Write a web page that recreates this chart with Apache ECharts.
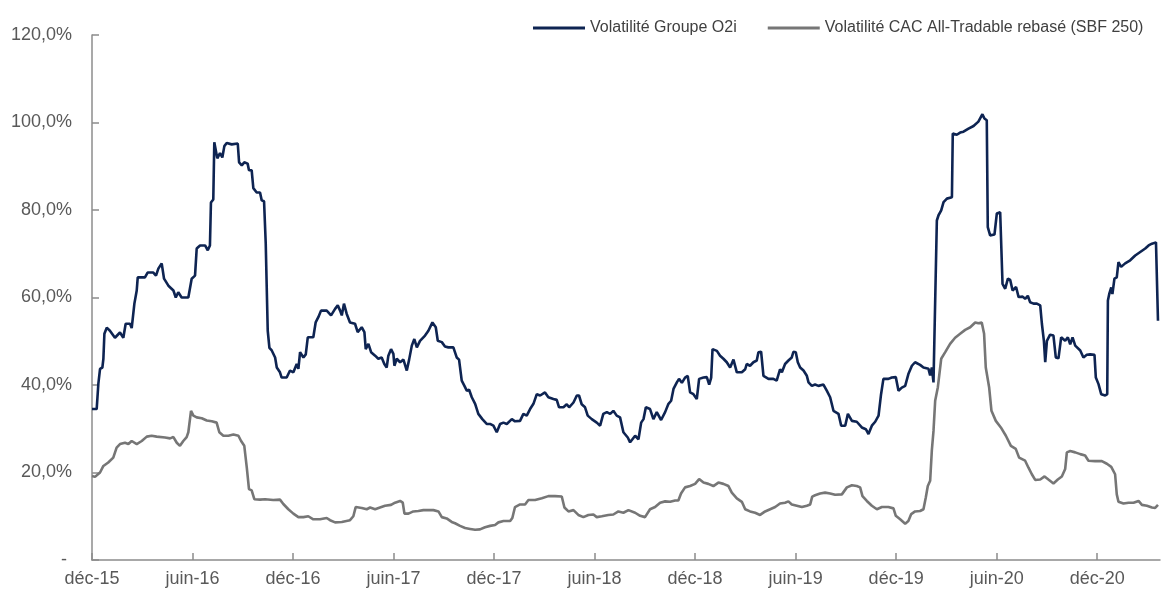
<!DOCTYPE html>
<html>
<head>
<meta charset="utf-8">
<script src="https://cdn.jsdelivr.net/npm/echarts@6/dist/echarts.min.js"></script>
<style>
  html, body { margin: 0; padding: 0; background: #fff; }
  #chart { width: 1162px; height: 603px; }
</style>
</head>
<body>
<div id="chart"></div>
<script>
// x = months since déc-15, y = volatility in %
const seriesNames = ['Volatilité Groupe O2i', 'Volatilité CAC All-Tradable rebasé (SBF 250)']

const xTickLabels = ['déc-15', 'juin-16', 'déc-16', 'juin-17', 'déc-17', 'juin-18',
  'déc-18', 'juin-19', 'déc-19', 'juin-20', 'déc-20']
const yTickValues = [0, 20, 40, 60, 80, 100, 120]

const o2iPoints = [
  [0, 34.5], [0.28, 34.5], [0.38, 40.3], [0.48, 43.7], [0.62, 44], [0.68, 46], [0.74, 51.7], [0.88, 53.1],
  [1.07, 52.4], [1.37, 50.8], [1.67, 52], [1.87, 50.8], [2.01, 54], [2.27, 54], [2.37, 53], [2.53, 58.6],
  [2.67, 61.6], [2.73, 64.6], [3.16, 64.6], [3.32, 65.7], [3.66, 65.7], [3.82, 65], [3.96, 66.6], [4.16, 67.8],
  [4.30, 64.3], [4.56, 62.7], [4.86, 61.6], [5.00, 60], [5.15, 61.2], [5.35, 60], [5.75, 60], [5.95, 64.3],
  [6.15, 65], [6.25, 71.2], [6.45, 71.9], [6.75, 71.9], [6.91, 70.8], [7.04, 71.9], [7.10, 81.7], [7.24, 82.4],
  [7.30, 95.5], [7.48, 91.8], [7.64, 93], [7.78, 92], [7.90, 94.6], [8.04, 95.3], [8.34, 95], [8.70, 95.2],
  [8.78, 90.9], [8.94, 90.2], [9.09, 90.9], [9.29, 90.6], [9.37, 89.1], [9.53, 89.1], [9.63, 85], [9.83, 84],
  [10.03, 84], [10.13, 82.2], [10.27, 82], [10.37, 72.4], [10.43, 62.3], [10.49, 52.4], [10.59, 48.5], [10.73, 47.9],
  [10.93, 46.3], [11.03, 44.0], [11.22, 42.9], [11.32, 41.7], [11.62, 41.7], [11.82, 43.3], [12.02, 42.9], [12.22, 44.8],
  [12.32, 43.7], [12.42, 47.5], [12.62, 46.3], [12.76, 47], [12.88, 50.9], [13.21, 50.9], [13.35, 54.3], [13.51, 55.5],
  [13.67, 57.0], [14.01, 57], [14.27, 55.9], [14.51, 57.4], [14.67, 58.2], [14.81, 57], [14.91, 55.9], [15.04, 58.6],
  [15.20, 56.3], [15.40, 54.3], [15.70, 54], [15.86, 52.1], [16.10, 53.2], [16.26, 52.1], [16.34, 48.2], [16.50, 49.4],
  [16.66, 47.5], [16.90, 46.7], [17.09, 46.0], [17.29, 46.3], [17.45, 44.8], [17.59, 44], [17.69, 46.7], [17.85, 48.2],
  [17.99, 47.1], [18.05, 44.4], [18.19, 46], [18.39, 45.2], [18.59, 45.8], [18.79, 43.3], [18.93, 45.8], [19.09, 49.0],
  [19.24, 50.5], [19.39, 48.6], [19.58, 50.1], [19.88, 51.3], [20.08, 52.4], [20.32, 54.3], [20.52, 53.2], [20.64, 50.1],
  [20.88, 49.8], [21.07, 48.8], [21.27, 48.6], [21.57, 48.6], [21.77, 46.3], [21.91, 45.8], [22.07, 41.0], [22.23, 39.8],
  [22.37, 38.7], [22.51, 38.9], [22.67, 37.2], [22.87, 35.7], [23.06, 33.4], [23.30, 32.2], [23.56, 31.1], [23.76, 31.1],
  [23.96, 30.7], [24.16, 29.2], [24.36, 31.1], [24.56, 31.4], [24.76, 31.1], [25.06, 32.2], [25.25, 31.7], [25.55, 31.8],
  [25.75, 33.4], [25.95, 33], [26.15, 34.5], [26.35, 35.7], [26.55, 37.9], [26.75, 37.6], [27.04, 38.3], [27.24, 37.2],
  [27.54, 36.8], [27.74, 36.6], [27.88, 34.9], [28.14, 34.9], [28.34, 35.6], [28.48, 34.9], [28.74, 36], [28.94, 37.6],
  [29.07, 37.6], [29.23, 35.6], [29.43, 34.9], [29.59, 33.0], [29.83, 32.2], [30.13, 31.4], [30.33, 30.7], [30.52, 33.4],
  [30.73, 33.8], [30.93, 33.4], [31.12, 34.1], [31.32, 33], [31.52, 32.6], [31.72, 29.2], [31.98, 28.0], [32.12, 26.9],
  [32.42, 28.4], [32.62, 27.6], [32.78, 31.4], [32.92, 32.2], [33.06, 34.9], [33.31, 34.5], [33.51, 32.2], [33.71, 33.8],
  [33.81, 34.1], [33.97, 32], [34.21, 33.8], [34.41, 35.7], [34.57, 36.4], [34.71, 39.1], [34.91, 40.6], [35.04, 41.4],
  [35.21, 40.5], [35.40, 41.7], [35.56, 42.1], [35.70, 38.3], [35.90, 37.9], [36.10, 36.8], [36.24, 41.4], [36.50, 41.7],
  [36.70, 41.8], [36.84, 40.1], [36.96, 41.7], [37.04, 48.2], [37.30, 47.8], [37.49, 46.7], [37.69, 46], [37.89, 45.2],
  [38.09, 44], [38.29, 45.8], [38.49, 42.9], [38.79, 42.9], [38.99, 43.6], [39.08, 44.8], [39.28, 44.4], [39.48, 45.2],
  [39.68, 45.6], [39.78, 47.5], [39.94, 47.6], [40.08, 42.1], [40.38, 41.4], [40.67, 41.4], [40.87, 41], [41.07, 43.6],
  [41.18, 42.9], [41.37, 44.8], [41.57, 45.6], [41.77, 46.3], [41.87, 47.6], [42.01, 47.5], [42.13, 45.2], [42.27, 44],
  [42.47, 43.3], [42.67, 42.1], [42.77, 40.6], [42.97, 39.8], [43.16, 40.1], [43.36, 39.8], [43.66, 40.1], [43.86, 38.7],
  [44.06, 37.2], [44.26, 34.1], [44.56, 33.4], [44.72, 30.7], [44.96, 30.7], [45.12, 33.4], [45.36, 31.8], [45.65, 31.6],
  [45.95, 30.3], [46.19, 29.9], [46.35, 28.8], [46.55, 30.7], [46.75, 31.6], [46.95, 33], [47.10, 37.9], [47.24, 41.4],
  [47.54, 41.4], [47.74, 41.7], [47.98, 41.8], [48.14, 38.7], [48.34, 39.4], [48.54, 39.8], [48.73, 42.5], [48.94, 44.4],
  [49.13, 45.2], [49.43, 44.6], [49.63, 44.0], [49.93, 43.7], [50.03, 42.2], [50.13, 44], [50.23, 40.6], [50.33, 40.2],
  [50.43, 77.6], [50.53, 78.8], [50.69, 79.9], [50.83, 81.8], [51.03, 82.6], [51.33, 82.9], [51.38, 97.5], [51.62, 97.2],
  [51.82, 97.7], [52.02, 97.9], [52.32, 98.6], [52.62, 99.2], [52.91, 100.2], [53.15, 101.9], [53.27, 100.9], [53.41, 100.5],
  [53.47, 76.1], [53.61, 74.2], [53.87, 74.4], [54.01, 79.2], [54.21, 79.5], [54.31, 79.2], [54.35, 63.1], [54.51, 62.0],
  [54.67, 64.3], [54.81, 64], [54.95, 61.6], [55.16, 62.4], [55.31, 60.1], [55.55, 60.2], [55.70, 59.7], [55.86, 60.4],
  [56.00, 58.9], [56.20, 58.6], [56.40, 58.6], [56.60, 58.2], [56.70, 54.0], [56.82, 50.1], [56.90, 45.2], [57.00, 50.1],
  [57.19, 51.5], [57.39, 51.3], [57.53, 46.3], [57.69, 46.1], [57.85, 50.9], [58.09, 50.1], [58.25, 50.9], [58.39, 49.3],
  [58.53, 50.9], [58.69, 49], [58.99, 47.9], [59.18, 46.3], [59.38, 46.9], [59.58, 47.0], [59.84, 46.9], [59.92, 41.7],
  [60.08, 40.2], [60.24, 37.9], [60.48, 37.6], [60.60, 37.9], [60.64, 59.3], [60.72, 60.8], [60.84, 62.3], [60.91, 60.8],
  [61.03, 64.3], [61.17, 64.6], [61.27, 68.1], [61.43, 67], [61.67, 67.8], [61.97, 68.5], [62.27, 69.6], [62.57, 70.4],
  [62.87, 71.2], [63.07, 71.9], [63.27, 72.3], [63.51, 72.6], [63.57, 72.3], [63.63, 54.7]
]

const cacPoints = [
  [0, 19.2], [0.18, 19.0], [0.48, 20.0], [0.68, 21.5], [0.97, 22.3], [1.27, 23.4], [1.47, 25.7], [1.67, 26.5],
  [1.97, 26.8], [2.17, 26.5], [2.37, 27.2], [2.67, 26.5], [2.97, 27.2], [3.27, 28.2], [3.56, 28.4], [3.86, 28.2],
  [4.36, 28.0], [4.66, 27.8], [4.86, 28.1], [5.06, 26.8], [5.25, 26.1], [5.45, 27.2], [5.65, 28.1], [5.75, 29.2],
  [5.91, 34.1], [6.05, 33.0], [6.25, 32.6], [6.55, 32.4], [6.85, 31.9], [7.15, 31.7], [7.44, 31.4], [7.60, 29.2],
  [7.84, 28.4], [8.14, 28.4], [8.44, 28.7], [8.74, 28.4], [8.90, 27.2], [9.09, 26.1], [9.24, 21.1], [9.37, 16.2],
  [9.53, 15.9], [9.69, 13.9], [10.03, 13.8], [10.33, 13.9], [10.82, 13.7], [11.22, 13.8], [11.42, 12.8], [11.72, 11.6],
  [12.02, 10.6], [12.32, 9.8], [12.62, 9.8], [12.91, 10.0], [13.21, 9.3], [13.61, 9.3], [14.01, 9.6], [14.21, 9.1],
  [14.51, 8.6], [14.91, 8.7], [15.40, 9.1], [15.60, 10.0], [15.74, 12.1], [16.10, 11.9], [16.40, 11.6], [16.60, 12.0],
  [16.90, 11.6], [17.19, 12.0], [17.49, 12.4], [17.85, 12.6], [18.09, 13.1], [18.39, 13.5], [18.55, 13.1], [18.65, 10.6],
  [18.89, 10.6], [19.18, 11.1], [19.48, 11.2], [19.78, 11.4], [20.08, 11.4], [20.38, 11.4], [20.68, 11.1], [20.88, 9.8],
  [21.17, 9.5], [21.47, 8.7], [21.67, 8.4], [21.97, 7.8], [22.27, 7.3], [22.57, 7.1], [22.87, 6.9], [23.16, 7.0],
  [23.46, 7.5], [23.76, 7.8], [24.06, 8.0], [24.26, 8.6], [24.56, 8.9], [24.96, 8.9], [25.09, 9.6], [25.25, 12.1],
  [25.55, 12.7], [25.85, 12.7], [26.05, 13.7], [26.45, 13.7], [26.85, 14.1], [27.24, 14.6], [27.64, 14.6], [28.04, 14.5],
  [28.20, 12.0], [28.44, 11.1], [28.74, 11.4], [29.03, 10.3], [29.33, 9.8], [29.63, 10.3], [29.93, 10.4], [30.13, 9.8],
  [30.43, 10.0], [30.82, 10.3], [31.12, 10.4], [31.42, 11.1], [31.72, 10.8], [32.02, 11.4], [32.42, 10.8], [32.72, 10.1],
  [33.01, 9.8], [33.31, 11.6], [33.61, 12.1], [33.91, 13.1], [34.21, 13.4], [34.51, 13.3], [34.81, 13.6], [35.00, 13.6],
  [35.16, 15.2], [35.40, 16.6], [35.70, 16.9], [36.00, 17.4], [36.24, 18.5], [36.50, 17.7], [36.79, 17.4], [37.09, 16.9],
  [37.39, 17.7], [37.69, 17.4], [37.99, 16.9], [38.19, 15.4], [38.49, 14.1], [38.79, 13.3], [38.99, 11.6], [39.28, 11.1],
  [39.58, 10.8], [39.88, 10.3], [40.18, 11.1], [40.48, 11.6], [40.78, 12.1], [41.07, 12.9], [41.37, 13.1], [41.57, 13.4],
  [41.77, 12.7], [42.07, 12.4], [42.37, 12.1], [42.67, 12.4], [42.87, 12.7], [42.99, 14.5], [43.16, 14.8], [43.46, 15.2],
  [43.76, 15.4], [44.06, 15.2], [44.36, 14.9], [44.76, 15.0], [45.06, 16.6], [45.36, 17.1], [45.65, 16.9], [45.85, 16.6],
  [45.99, 14.6], [46.25, 13.5], [46.55, 12.4], [46.85, 11.6], [47.15, 12.1], [47.54, 12.1], [47.84, 11.8], [47.98, 10.1],
  [48.24, 9.3], [48.54, 8.3], [48.73, 8.9], [48.90, 10.5], [49.13, 11.1], [49.43, 11.2], [49.63, 11.6], [49.77, 14.3],
  [49.89, 16.9], [50.03, 18.1], [50.13, 25.0], [50.23, 29.5], [50.33, 36.4], [50.49, 39.5], [50.69, 46.0], [50.93, 47.5],
  [51.22, 49.4], [51.52, 50.8], [51.82, 51.7], [52.12, 52.6], [52.42, 53.2], [52.72, 54.3], [52.91, 54.1], [53.11, 54.3],
  [53.25, 51.7], [53.35, 44.0], [53.55, 39.5], [53.69, 34.1], [53.95, 31.8], [54.25, 30.3], [54.55, 28.4], [54.85, 26.1],
  [55.14, 25.4], [55.34, 23.4], [55.70, 22.7], [55.90, 21.1], [56.10, 19.6], [56.30, 18.3], [56.60, 18.4], [56.86, 19.1],
  [57.09, 18.4], [57.39, 17.5], [57.65, 18.4], [57.89, 19.1], [58.09, 20.8], [58.19, 24.6], [58.39, 24.9], [58.69, 24.6],
  [58.99, 24.2], [59.28, 23.9], [59.48, 22.7], [59.88, 22.6], [60.28, 22.6], [60.58, 22.0], [60.84, 21.3], [61.07, 19.6],
  [61.17, 15.0], [61.27, 13.3], [61.57, 12.9], [61.87, 13.1], [62.17, 13.1], [62.47, 13.5], [62.67, 12.6], [62.97, 12.4],
  [63.27, 12.0], [63.46, 11.9], [63.63, 12.6]
]

const chart = echarts.init(document.getElementById('chart'))

const axisColor = '#8c8c8c'
const labelColor = '#595959'
const fontFamily = '"Liberation Sans", Arial, sans-serif'
const xTickValues = xTickLabels.map((_, i) => i * 6)

chart.setOption({
  animation: false,
  textStyle: { fontFamily: fontFamily },
  grid: {
    left: 92,
    right: 2,
    top: 35,
    bottom: 43,
    containLabel: false
  },
  legend: {
    left: 533,
    top: 20,
    padding: 0,
    itemWidth: 52,
    itemHeight: 3,
    itemGap: 31,
    icon: 'rect',
    textStyle: { fontSize: 16, color: '#404040', fontFamily: fontFamily },
    data: seriesNames
  },
  xAxis: {
    type: 'value',
    min: 0,
    max: 63.75,
    interval: 6,
    splitLine: { show: false },
    axisLine: { lineStyle: { color: axisColor, width: 1.5 } },
    axisTick: {
      inside: true,
      length: 7,
      customValues: xTickValues,
      lineStyle: { color: axisColor, width: 1.5 }
    },
    axisLabel: {
      customValues: xTickValues,
      margin: 10,
      fontSize: 18,
      color: labelColor,
      formatter: v => xTickLabels[Math.round(v / 6)] || ''
    }
  },
  yAxis: {
    type: 'value',
    min: 0,
    max: 120,
    interval: 20,
    splitLine: { show: false },
    axisLine: { show: true, lineStyle: { color: axisColor, width: 1.5 } },
    axisTick: {
      inside: true,
      length: 7,
      customValues: yTickValues,
      lineStyle: { color: axisColor, width: 1.5 }
    },
    axisLabel: {
      customValues: yTickValues,
      margin: 20,
      fontSize: 18,
      color: labelColor,
      formatter: v => v === 0 ? '- ' : v.toFixed(1).replace('.', ',') + '%'
    }
  },
  series: [
    {
      name: seriesNames[0],
      type: 'line',
      data: o2iPoints,
      symbol: 'none',
      color: '#0e2452',
      lineStyle: { width: 2.6, color: '#0e2452' },
      z: 3
    },
    {
      name: seriesNames[1],
      type: 'line',
      data: cacPoints,
      symbol: 'none',
      color: '#767676',
      lineStyle: { width: 2.6, color: '#767676' },
      z: 2
    }
  ]
})
</script>
</body>
</html>
